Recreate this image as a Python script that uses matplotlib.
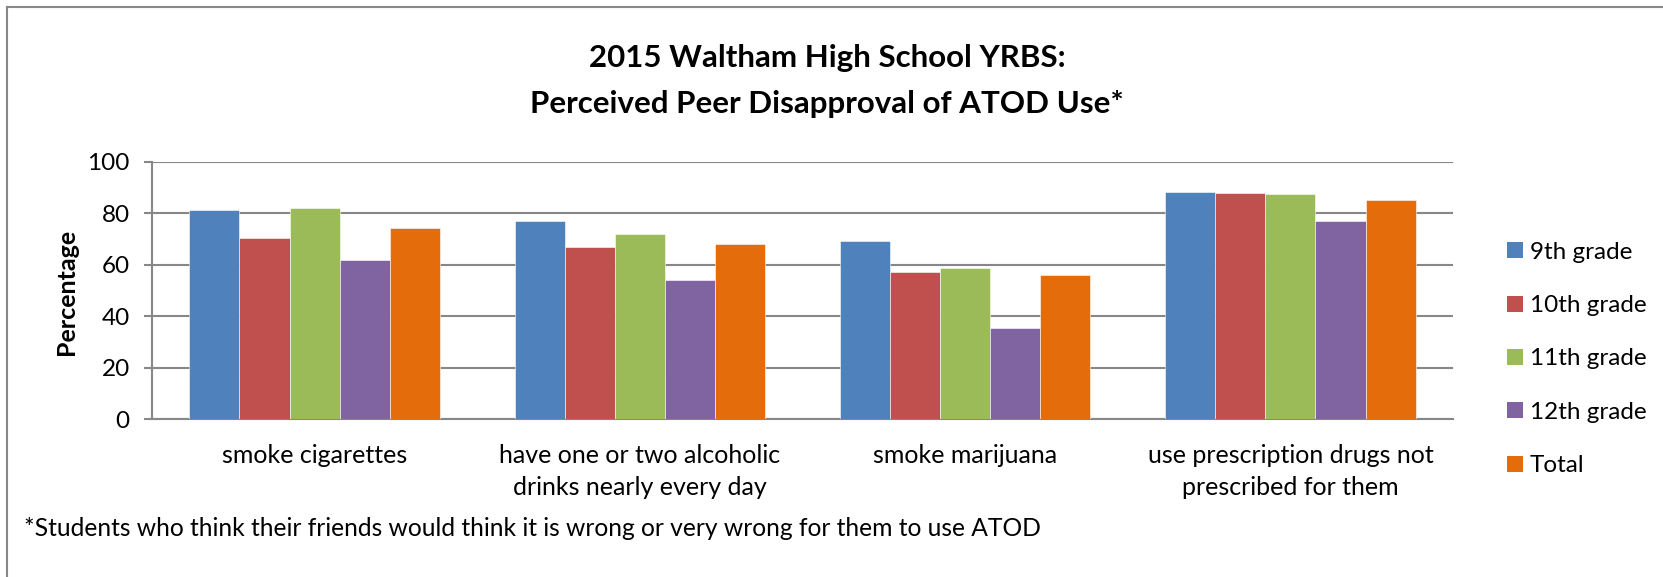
import numpy as np
import matplotlib
matplotlib.use("Agg")
import matplotlib.pyplot as plt
from matplotlib.lines import Line2D
from matplotlib.patches import Patch

plt.rcParams['font.family'] = ['Lato', 'DejaVu Sans']

categories = ["smoke cigarettes",
              "have one or two alcoholic\ndrinks nearly every day",
              "smoke marijuana",
              "use prescription drugs not\nprescribed for them"]
series_names = ["9th grade", "10th grade", "11th grade", "12th grade", "Total"]
grade9 = [81.3, 77.0, 69.1, 88.5]
grade10 = [70.4, 66.9, 57.3, 88.1]
grade11 = [82.1, 71.9, 58.9, 87.7]
grade12 = [61.7, 54.0, 35.4, 77.2]
total = [74.4, 68.0, 55.9, 85.4]
yticks = [0, 20, 40, 60, 80, 100]

colors = ['#4F81BD', '#C0504D', '#9BBB59', '#8064A2', '#E46C0A']
grid_c = '#878787'

W, H = 1663, 577
fig = plt.figure(figsize=(W / 100, H / 100), dpi=100)
ax = fig.add_axes([152 / W, 1 - 419 / H, (1453 - 152) / W, (419 - 162) / H])

x = np.arange(len(categories))
bw = 0.154
for i, vals in enumerate([grade9, grade10, grade11, grade12, total]):
    ax.bar(x + (i - 2) * bw, vals, bw, color=colors[i], zorder=3,
           edgecolor='white', linewidth=0.4)

ax.set_xlim(-0.5, len(categories) - 0.5)
ax.set_ylim(0, 100)
ax.set_yticks(yticks)
ax.yaxis.grid(True, color=grid_c, linewidth=1.5, zorder=0)
ax.set_axisbelow(True)
for s in ['top', 'right']:
    ax.spines[s].set_visible(False)
ax.spines['left'].set_color(grid_c)
ax.spines['left'].set_linewidth(1.5)
ax.spines['bottom'].set_color(grid_c)
ax.spines['bottom'].set_linewidth(1.5)
ax.tick_params(axis='y', length=6, width=1.5, color=grid_c, labelsize=17.5, pad=10)
ax.tick_params(axis='x', length=0, labelsize=18, pad=18)
ax.set_xticks(x)
ax.set_xticklabels(categories, linespacing=1.45)

fig.text(66 / W, 1 - 292 / H, "Percentage", rotation=90, ha='center', va='center',
         fontsize=18, fontweight='bold')
fig.text(827 / W, 1 - 58 / H, "2015 Waltham High School YRBS:", ha='center', va='center',
         fontsize=22.5, fontweight='bold')
fig.text(827 / W, 1 - 104 / H, "Perceived Peer Disapproval of ATOD Use*", ha='center', va='center',
         fontsize=22.5, fontweight='bold')
fig.text(24 / W, 1 - 528 / H,
         "*Students who think their friends would think it is wrong or very wrong for them to use ATOD",
         ha='left', va='center', fontsize=17.7)

handles = [Patch(facecolor=c, edgecolor='none') for c in colors]
fig.legend(handles, series_names, loc='center left', bbox_to_anchor=(1497 / W, 1 - 359 / H),
           frameon=False, fontsize=17.5, handlelength=0.65, handleheight=0.65,
           handletextpad=0.3, labelspacing=1.33, borderaxespad=0)

# chart frame
fig.add_artist(Line2D([7 / W, 7 / W], [0, 1 - 7 / H], color=grid_c, linewidth=1.5))
fig.add_artist(Line2D([7 / W, 1], [1 - 7 / H, 1 - 7 / H], color=grid_c, linewidth=1.5))

fig.savefig("out.png", dpi=100)
